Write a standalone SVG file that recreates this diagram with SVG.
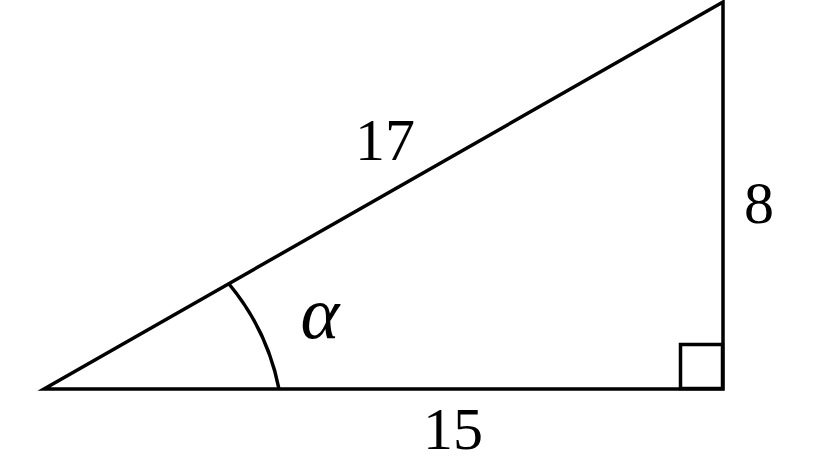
<svg xmlns="http://www.w3.org/2000/svg" width="818" height="461" viewBox="0 0 818 461">
<style>
.ln{fill:none;stroke:#000;stroke-width:3.5;stroke-linejoin:miter}
.t{font-family:'Times New Roman','Liberation Serif',Times,serif;font-size:60px;fill:#000;text-anchor:middle}
.a{font-style:italic;font-size:74px}
</style>
<rect width="818" height="461" fill="#fff"/>
<g id="triangle">
<path class="ln" d="M44,389 L723,389 L723,2 Z"/>
<rect class="ln" x="680.5" y="344.5" width="42" height="44"/>
<path class="ln" d="M229,284 A236,236 0 0 1 279,389"/>
</g>
<g id="labels">
<text class="t" x="385" y="160">17</text>
<text class="t" x="759" y="223">8</text>
<text class="t" x="453" y="449">15</text>
<text class="t a" x="320" y="338">α</text>
</g>
</svg>
